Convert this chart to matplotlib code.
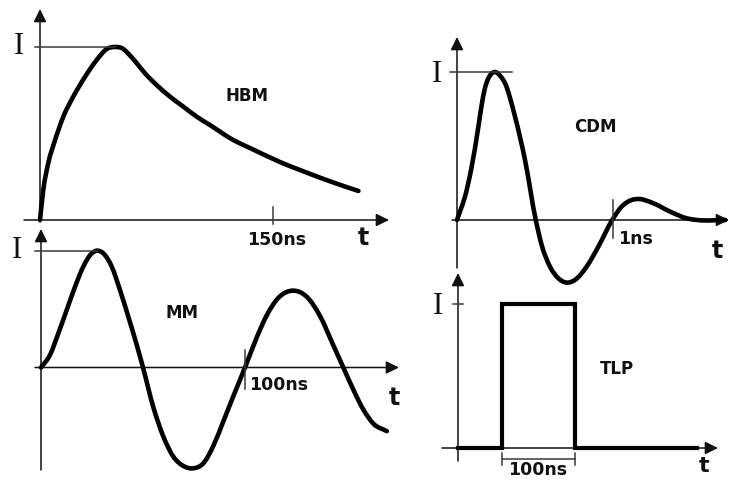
import matplotlib
matplotlib.use('Agg')
import matplotlib.pyplot as plt
from matplotlib.path import Path
from matplotlib.patches import PathPatch
from matplotlib.transforms import blended_transform_factory as btf

# ---------------- data ----------------
hbm_t = [0, 2.1, 5.3, 9.7, 15.0, 21.4, 29.0, 36.5, 42.9, 48.3, 53.4, 56.8, 62.3, 67.6,
         75.1, 83.7, 92.3, 100.9, 109.4, 124.5, 135.2, 146, 156.6, 167.4, 178.1, 188.8, 197.5, 205]
hbm_i = [0, 0.173, 0.328, 0.462, 0.597, 0.713, 0.828, 0.925, 0.988, 1.0, 0.99, 0.962,
         0.906, 0.848, 0.78, 0.713, 0.655, 0.597, 0.549, 0.462, 0.416, 0.37, 0.327, 0.289,
         0.252, 0.217, 0.19, 0.168]

mm_t = [0, 4.4, 8.5, 12.6, 16.7, 20.7, 24.9, 27.3, 30.5, 34.7, 38.7, 42.8, 46.9, 50, 55, 60,
        64.9, 69.8, 74.7, 79.6, 84.5, 89.4, 94.3, 100, 105.7, 110.6, 116.3, 123.7, 130.3, 136.8,
        143.3, 148.2, 153.1, 158, 162.9, 169.5]
mm_i = [0, 0.107, 0.293, 0.492, 0.692, 0.863, 0.978, 1.0, 0.978, 0.863, 0.664, 0.435, 0.195, 0,
        -0.336, -0.592, -0.764, -0.843, -0.863, -0.820, -0.67, -0.46, -0.245, 0, 0.255, 0.445,
        0.595, 0.658, 0.605, 0.44, 0.19, 0, -0.19, -0.36, -0.48, -0.545]

cdm_t = [0, 0.02, 0.051, 0.094, 0.137, 0.157, 0.179, 0.2, 0.222, 0.244, 0.276, 0.308, 0.372,
         0.436, 0.505, 0.543, 0.596, 0.65, 0.703, 0.756, 0.831, 0.906, 0.995, 1.055, 1.119,
         1.163, 1.259, 1.367, 1.474, 1.538, 1.72]
cdm_i = [0, 0.06, 0.157, 0.36, 0.63, 0.77, 0.89, 0.955, 0.99, 1.0, 0.975, 0.924, 0.698,
         0.405, 0, -0.17, -0.315, -0.394, -0.423, -0.405, -0.315, -0.18, 0, 0.09, 0.135,
         0.142, 0.113, 0.056, 0.011, 0, 0]

tlp_t = [0, 60, 60, 160, 160, 327]
tlp_i = [0, 0, 1, 1, 0, 0]

hbm_tick, hbm_tick_label = 150, '150ns'
mm_tick, mm_tick_label = 100, '100ns'
cdm_tick, cdm_tick_label = 1, '1ns'
tlp_width_label = '100ns'
names = ['HBM', 'MM', 'CDM', 'TLP']

# ---------------- layout ----------------
W, H = 730, 480
fig = plt.figure(figsize=(W / 100, H / 100), dpi=100)
fig.patch.set_facecolor('white')

ov = fig.add_axes([0, 0, 1, 1])
ov.set_xlim(0, W)
ov.set_ylim(H, 0)
ov.axis('off')


def panel(x0, y0, sx, sy):
    ax = fig.add_axes([0, 0, 1, 1])
    ax.set_xlim(-x0 / sx, (W - x0) / sx)
    ax.set_ylim((y0 - H) / sy, y0 / sy)
    ax.axis('off')
    return ax


ax_hbm = panel(40, 220, 233 / 150, 173)
ax_mm = panel(41, 367.5, 204 / 100, 116.8)
ax_cdm = panel(457, 220, 156, 148)
ax_tlp = panel(458, 448, 0.73, 144)

AX_C = '#3a3a3a'
AX_LW = 1.1
CURVE_LW = 3.3
SANS = dict(family='DejaVu Sans', fontweight='bold', color='#111111')
SERIF = dict(family='Liberation Serif', color='#111111')


def smooth_curve(ax, t, y, lw=CURVE_LW):
    """Draw the read points as a smooth Hermite (cubic Bezier) path through them."""
    n = len(t)
    m = []
    for i in range(n):
        if i == 0:
            m.append((y[1] - y[0]) / (t[1] - t[0]))
        elif i == n - 1:
            m.append((y[-1] - y[-2]) / (t[-1] - t[-2]))
        else:
            h0, h1 = t[i] - t[i - 1], t[i + 1] - t[i]
            d0, d1 = (y[i] - y[i - 1]) / h0, (y[i + 1] - y[i]) / h1
            m.append((d0 * h1 + d1 * h0) / (h0 + h1))
    verts = [(t[0], y[0])]
    codes = [Path.MOVETO]
    for i in range(n - 1):
        h = t[i + 1] - t[i]
        verts += [(t[i] + h / 3, y[i] + m[i] * h / 3),
                  (t[i + 1] - h / 3, y[i + 1] - m[i + 1] * h / 3),
                  (t[i + 1], y[i + 1])]
        codes += [Path.CURVE4] * 3
    ax.add_patch(PathPatch(Path(verts, codes), fill=False, edgecolor='black', lw=lw,
                           capstyle='round', joinstyle='round'))


def arrow(p_from, p_to):
    ov.annotate('', xy=p_to, xytext=p_from,
                arrowprops=dict(arrowstyle='-|>,head_length=0.65,head_width=0.32',
                                color='#111111', lw=AX_LW, mutation_scale=12,
                                shrinkA=0, shrinkB=0))


# ---------- HBM ----------
arrow((40, 222), (40, 9))
arrow((24, 220), (389, 220))
smooth_curve(ax_hbm, hbm_t, hbm_i)
peak = hbm_t[hbm_i.index(max(hbm_i))]
ax_hbm.plot([-5 / (233 / 150), peak], [1, 1], color=AX_C, lw=AX_LW)
ax_hbm.plot([hbm_tick, hbm_tick], [207, 224], color=AX_C, lw=AX_LW,
            transform=btf(ax_hbm.transData, ov.transData))
ov.text(277, 240, hbm_tick_label, ha='center', va='center', fontsize=12.5, **SANS)
ov.text(363, 238, 't', ha='center', va='center', fontsize=17, **SANS)
ov.text(19, 46, 'I', ha='center', va='center', fontsize=22, **SERIF)
ov.text(247, 96, names[0], ha='center', va='center', fontsize=12, **SANS)

# ---------- MM ----------
arrow((41, 470), (41, 229))
arrow((35, 367.5), (399, 367.5))
smooth_curve(ax_mm, mm_t, mm_i)
peak = mm_t[mm_i.index(max(mm_i))]
ax_mm.plot([-6 / 2.04, peak], [1, 1], color=AX_C, lw=AX_LW)
ax_mm.plot([mm_tick, mm_tick], [350, 389], color=AX_C, lw=AX_LW,
           transform=btf(ax_mm.transData, ov.transData))
ov.text(279, 385.5, mm_tick_label, ha='center', va='center', fontsize=12.5, **SANS)
ov.text(394, 398, 't', ha='center', va='center', fontsize=17, **SANS)
ov.text(17, 251, 'I', ha='center', va='center', fontsize=22, **SERIF)
ov.text(182, 313, names[1], ha='center', va='center', fontsize=12, **SANS)

# ---------- CDM ----------
arrow((457, 268), (457, 37))
arrow((452, 220), (729, 220))
smooth_curve(ax_cdm, cdm_t, cdm_i)
peak = cdm_t[cdm_i.index(max(cdm_i))]
ax_cdm.plot([-7 / 156, peak + 17 / 156], [1, 1], color=AX_C, lw=AX_LW)
ax_cdm.plot([cdm_tick, cdm_tick], [200, 238], color=AX_C, lw=AX_LW,
            transform=btf(ax_cdm.transData, ov.transData))
ov.text(636, 238.5, cdm_tick_label, ha='center', va='center', fontsize=12.5, **SANS)
ov.text(717, 251, 't', ha='center', va='center', fontsize=17, **SANS)
ov.text(437, 74, 'I', ha='center', va='center', fontsize=22, **SERIF)
ov.text(595, 127.5, names[2], ha='center', va='center', fontsize=12, **SANS)

# ---------- TLP ----------
arrow((458, 461), (458, 273))
arrow((442, 448), (718, 448))
ax_tlp.plot(tlp_t, tlp_i, color='black', lw=3.0, solid_joinstyle='miter')
ax_tlp.plot([453, 463], [1, 1], color=AX_C, lw=AX_LW,
            transform=btf(ov.transData, ax_tlp.transData))
t_up, t_dn = tlp_t[1], tlp_t[3]
tr = btf(ax_tlp.transData, ov.transData)
ax_tlp.plot([t_up, t_dn], [459, 459], color=AX_C, lw=AX_LW, transform=tr)
ax_tlp.plot([t_up, t_up], [453, 465], color=AX_C, lw=AX_LW, transform=tr)
ax_tlp.plot([t_dn, t_dn], [453, 465], color=AX_C, lw=AX_LW, transform=tr)
ov.text(538, 470, tlp_width_label, ha='center', va='center', fontsize=12.5, **SANS)
ov.text(704, 466.5, 't', ha='center', va='center', fontsize=16, **SANS)
ov.text(438, 306, 'I', ha='center', va='center', fontsize=22, **SERIF)
ov.text(617, 368.5, names[3], ha='center', va='center', fontsize=12, **SANS)

fig.savefig('out.png', dpi=100, facecolor='white')
